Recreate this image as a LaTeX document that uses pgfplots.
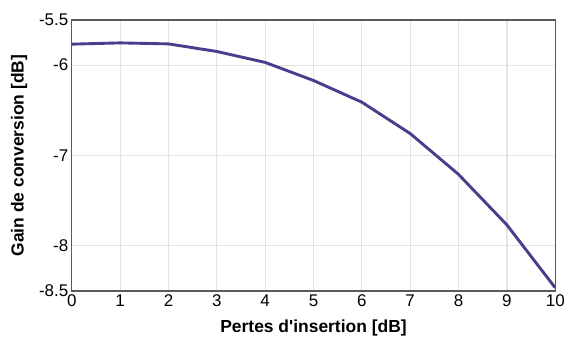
\documentclass[border=0pt]{standalone}
\usepackage{fontspec}
\setmainfont{Liberation Sans}
\newfontfamily\nolig{Liberation Sans}
\usepackage{pgfplots}
\pgfplotsset{compat=1.18}
\definecolor{linec}{HTML}{4A3D8C}
\definecolor{gridc}{HTML}{E4E4E4}
\definecolor{framec}{HTML}{5A5A5A}
\begin{document}
\begin{tikzpicture}
\path (-72pt,-46pt) rectangle (496pt,292pt);
\begin{axis}[
  at={(0,0)}, anchor=south west,
  scale only axis, width=485pt, height=272pt,
  xmin=0, xmax=10, ymin=-8.5, ymax=-5.5,
  xtick={0,1,2,3,4,5,6,7,8,9,10},
  xticklabels={0,1,2,3,4,5,6,7,8,9,10},
  ytick={-8.5,-8,-7,-6,-5.5},
  yticklabels={-8.5,-8,-7,-6,-5.5},
  grid=major,
  grid style={color=gridc, line width=1.2pt},
  axis line style={color=framec, line width=1.4pt},
  major tick length=0pt,
  tick label style={font=\fontsize{17}{17}\selectfont},
  xlabel={Pertes d{\nolig\bfseries '}insertion [dB]},
  ylabel={Gain de conversion [dB]},
  label style={font=\fontsize{17.5}{18}\selectfont\bfseries},
  xlabel style={at={(axis description cs:0.5,-0.154)}, anchor=base},
  ylabel style={at={(axis description cs:-0.109,0.5)}, anchor=center},
]
\addplot[color=linec, line width=2.9pt] coordinates {
  (0,-5.768) (1,-5.754) (2,-5.765) (3,-5.849) (4,-5.97) (5,-6.17)
  (6,-6.41) (7,-6.757) (8,-7.209) (9,-7.768) (10,-8.464)
};
\end{axis}
\end{tikzpicture}
\end{document}
